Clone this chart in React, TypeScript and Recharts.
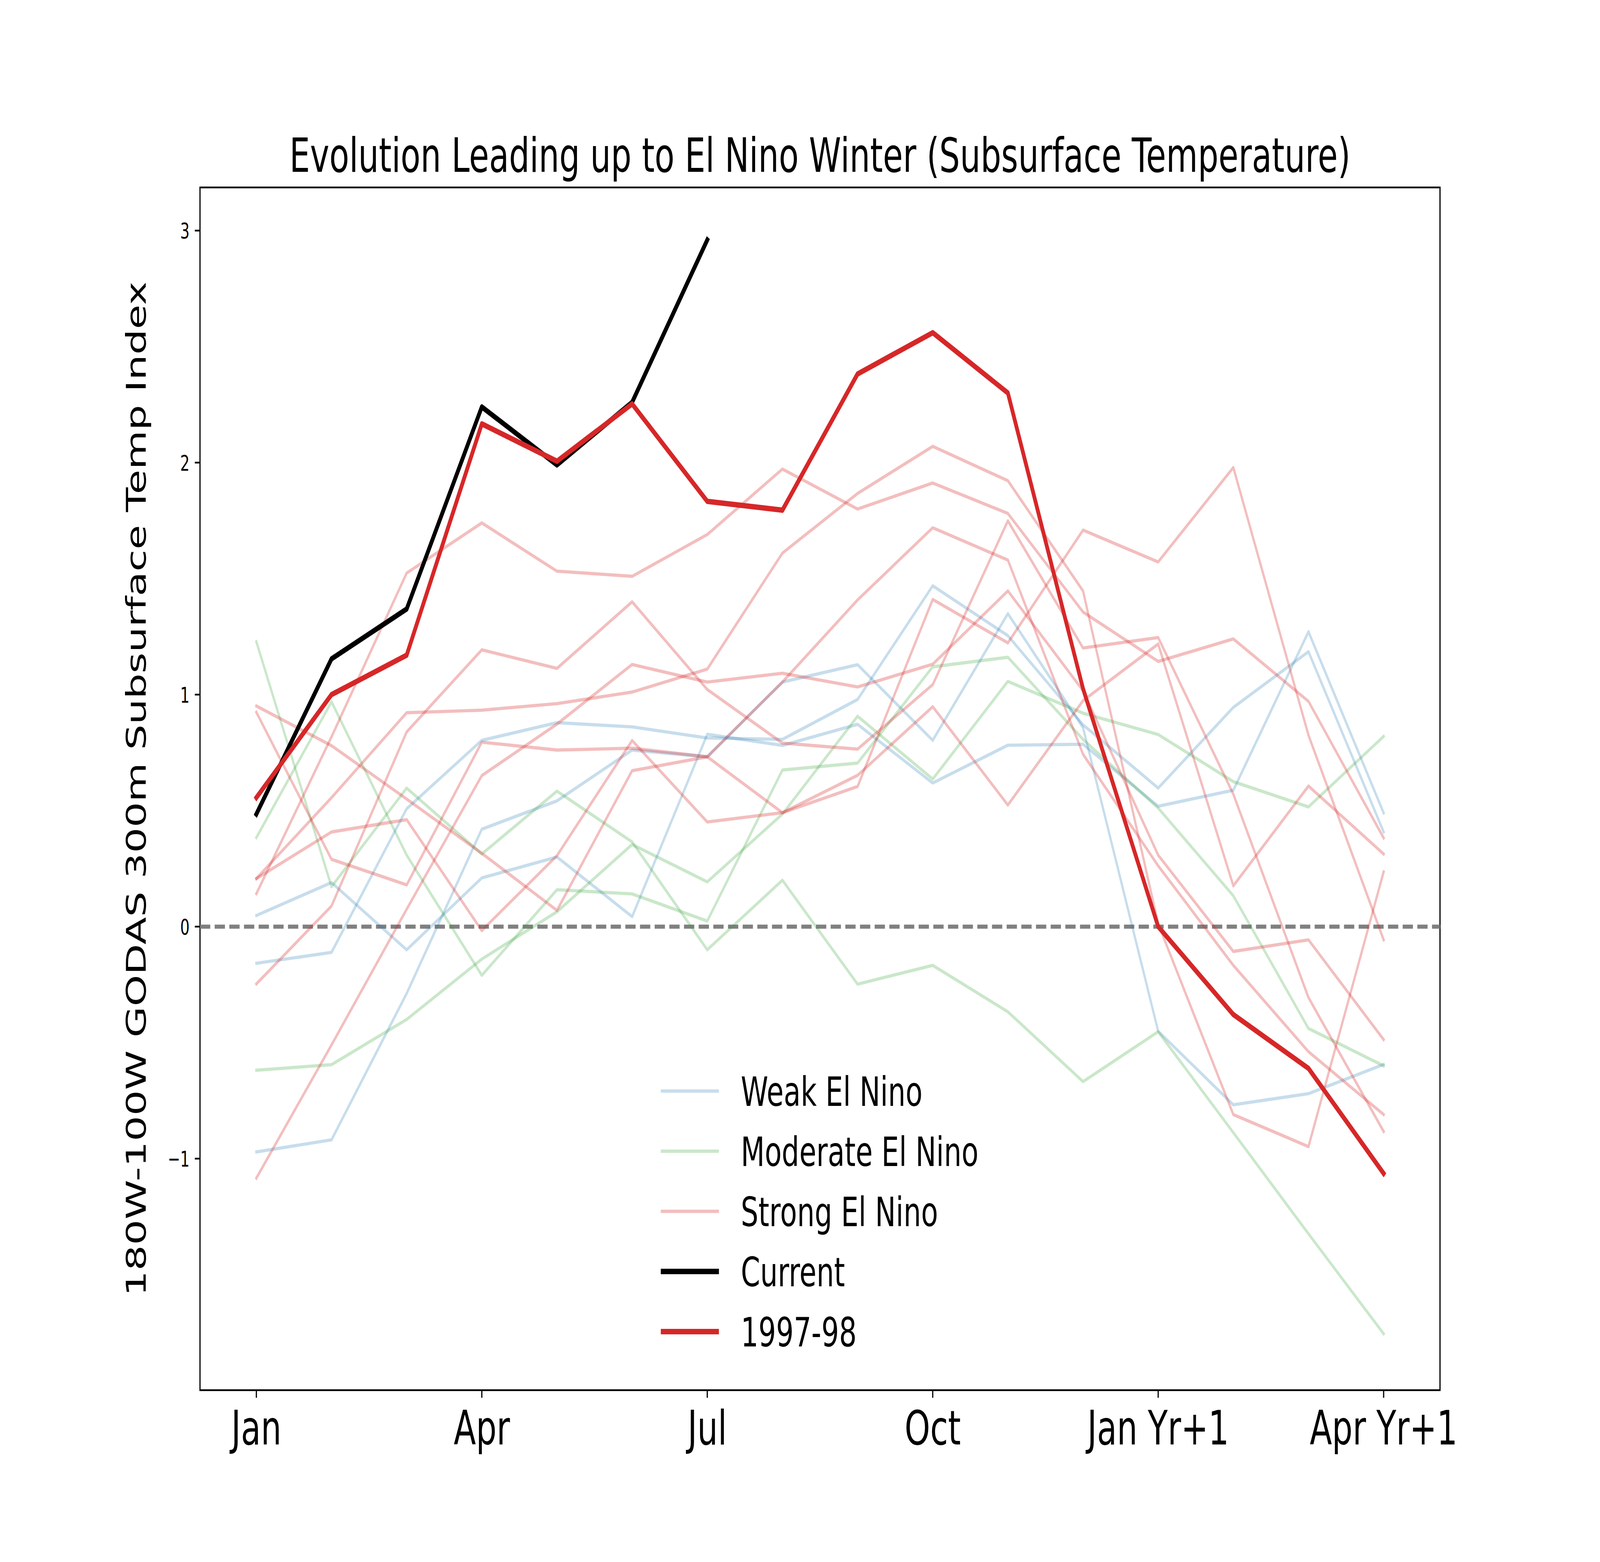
import React from 'react';
import {
  LineChart,
  Line,
  XAxis,
  YAxis,
  ReferenceLine,
  ReferenceArea,
  Legend,
  Customized,
} from 'recharts';

// ---------- data ----------
const monthIndex = [0, 1, 2, 3, 4, 5, 6, 7, 8, 9, 10, 11, 12, 13, 14, 15];
const xTickValues = [0, 3, 6, 9, 12, 15];
const xTickLabels = ['Jan', 'Apr', 'Jul', 'Oct', 'Jan Yr+1', 'Apr Yr+1'];
const yTickValues = [-1, 0, 1, 2, 3];
const yTickLabels = ['\u22121', '0', '1', '2', '3'];

const weak1 = [0.048, 0.19, -0.1, 0.21, 0.3, 0.043, 0.829, 0.781, 0.872, 0.619, 0.782, 0.786, 0.519, 0.588, 1.271, 0.49];
const weak2 = [-0.158, -0.111, 0.508, 0.803, 0.879, 0.861, 0.813, 0.807, 0.979, 1.469, 1.254, 0.87, 0.597, 0.945, 1.185, 0.408];
const weak3 = [-0.971, -0.919, -0.288, 0.42, 0.542, 0.761, 0.732, 1.054, 1.129, 0.803, 1.349, 0.858, -0.451, -0.768, -0.72, -0.594];

const moderate1 = [0.384, 0.969, 0.308, -0.21, 0.159, 0.141, 0.024, 0.675, 0.705, 1.12, 1.161, 0.807, 0.511, 0.133, -0.439, -0.6];
const moderate2 = [1.228, 0.172, 0.597, 0.313, 0.584, 0.365, -0.1, 0.2, -0.248, -0.167, -0.367, -0.668, -0.453, -0.888, -1.324, -1.755];
const moderate3 = [-0.619, -0.595, -0.4, -0.14, 0.064, 0.354, 0.193, 0.485, 0.907, 0.636, 1.057, 0.92, 0.828, 0.625, 0.516, 0.82];

const strong1 = [0.951, 0.78, 0.55, 0.316, 0.07, 0.672, 0.732, 0.491, 0.604, 1.41, 1.223, 1.709, 1.572, 1.979, 0.825, -0.057];
const strong2 = [0.924, 0.29, 0.18, 0.795, 0.761, 0.769, 0.732, 1.054, 1.408, 1.719, 1.58, 0.743, 0.262, -0.167, -0.539, -0.81];
const strong3 = [0.207, 0.408, 0.461, -0.017, 0.306, 0.802, 0.451, 0.491, 0.652, 0.948, 0.524, 0.974, 1.218, 0.176, 0.606, 0.313];
const strong4 = [0.207, 0.556, 0.922, 0.933, 0.961, 1.011, 1.11, 1.61, 1.867, 2.07, 1.922, 1.447, 0.012, -0.81, -0.948, 0.236];
const strong5 = [0.142, 0.818, 1.524, 1.74, 1.532, 1.51, 1.69, 1.972, 1.8, 1.912, 1.781, 1.356, 1.143, 1.24, 0.971, 0.382];
const strong6 = [-0.247, 0.089, 0.839, 1.193, 1.113, 1.4, 1.022, 0.791, 0.765, 1.043, 1.749, 1.201, 1.246, 0.571, -0.306, -0.883];
const strong7 = [-1.084, -0.51, 0.075, 0.651, 0.873, 1.13, 1.054, 1.092, 1.033, 1.131, 1.447, 1.017, 0.308, -0.107, -0.057, -0.487];

const current = [0.485, 1.154, 1.369, 2.24, 1.99, 2.26, 2.96];
const elNino1997 = [0.556, 1.0, 1.17, 2.167, 2.006, 2.253, 1.833, 1.795, 2.382, 2.56, 2.3, 1.026, 0.0, -0.379, -0.611, -1.064];

const weakSeries = [weak1, weak2, weak3];
const moderateSeries = [moderate1, moderate2, moderate3];
const strongSeries = [strong1, strong2, strong3, strong4, strong5, strong6, strong7];

// ---------- styling ----------
const FONT = 'DejaVu Sans';
const BLUE = '#1f77b4';
const GREEN = '#2ca02c';
const RED = '#d62728';
const Y_MIN = -1.998;
const Y_MAX = 3.186;
const PT = 400 / 72;
const FIG_W = 6000;
const FIG_H = 4000;

const data = monthIndex.map((m, i) => {
  const row: Record<string, number | null> = { m };
  weakSeries.forEach((s, k) => (row[`w${k}`] = s[i]));
  moderateSeries.forEach((s, k) => (row[`g${k}`] = s[i]));
  strongSeries.forEach((s, k) => (row[`s${k}`] = s[i]));
  row.cur = i < current.length ? current[i] : null;
  row.r97 = elNino1997[i];
  return row;
});

const XTick = (props: any) => {
  const { x, y, payload } = props;
  const idx = xTickValues.indexOf(payload.value);
  return (
    <text x={x} y={y + 120} textAnchor="middle" fontSize={122} fontFamily={FONT} fill="#000">
      {xTickLabels[idx]}
    </text>
  );
};

const YTick = (props: any) => {
  const { x, y, payload } = props;
  const idx = yTickValues.indexOf(payload.value);
  return (
    <text x={x} y={y + 20} textAnchor="end" fontSize={55.6} fontFamily={FONT} fill="#000">
      {yTickLabels[idx]}
    </text>
  );
};

const Title = () => (
  <text x={3075} y={440} textAnchor="middle" fontSize={122} fontFamily={FONT} fill="#000">
    Evolution Leading up to El Nino Winter (Subsurface Temperature)
  </text>
);

const YLabel = () => (
  <text
    x={546}
    y={2020}
    transform="rotate(-90 546 2020)"
    textAnchor="middle"
    fontSize={103}
    fontFamily={FONT}
    fill="#000"
  >
    180W-100W GODAS 300m Subsurface Temp Index
  </text>
);

const legendItems = [
  { label: 'Weak El Nino', color: BLUE, opacity: 0.25, width: 1.5 * PT },
  { label: 'Moderate El Nino', color: GREEN, opacity: 0.25, width: 1.5 * PT },
  { label: 'Strong El Nino', color: RED, opacity: 0.3, width: 1.5 * PT },
  { label: 'Current', color: '#000000', opacity: 1, width: 2.5 * PT },
  { label: '1997-98', color: RED, opacity: 1, width: 2.5 * PT },
];

const LegendBox = () => (
  <svg width={1500} height={800} style={{ display: 'block', overflow: 'visible' }}>
    {legendItems.map((it, i) => {
      const cy = 94 + i * 154;
      return (
        <g key={it.label}>
          <line
            x1={38}
            x2={256}
            y1={cy}
            y2={cy}
            stroke={it.color}
            strokeOpacity={it.opacity}
            strokeWidth={it.width}
          />
          <text x={338} y={cy + 38} fontSize={104} fontFamily={FONT} fill="#000">
            {it.label}
          </text>
        </g>
      );
    })}
  </svg>
);

export default function App() {
  const faint = 1.5 * PT;
  const thick = 2.5 * PT;
  const vw = typeof window !== 'undefined' ? window.innerWidth || FIG_W : FIG_W;
  const vh = typeof window !== 'undefined' ? window.innerHeight || FIG_H : FIG_H;
  const sx = Math.min(1, vw / FIG_W);
  const sy = Math.min(1, vh / FIG_H);
  return (
    <div
      style={{
        position: 'absolute',
        left: 0,
        top: 0,
        width: FIG_W * sx,
        height: FIG_H * sy,
        overflow: 'hidden',
        background: '#fff',
      }}
    >
      <div
        style={{
          width: FIG_W,
          height: FIG_H,
          transform: `scale(${sx}, ${sy})`,
          transformOrigin: '0 0',
        }}
      >
        <LineChart
          width={FIG_W}
          height={FIG_H}
          data={data}
          margin={{ top: 480, right: 600, bottom: 240, left: 550 }}
        >
          <XAxis
            dataKey="m"
            type="number"
            domain={[-0.75, 15.75]}
            ticks={xTickValues}
            interval={0}
            height={200}
            tick={<XTick />}
            stroke="#000"
            tickLine={{ stroke: '#000', strokeWidth: 0.8 * PT }}
            tickSize={3.5 * PT}
            tickMargin={0}
            axisLine={false}
            allowDataOverflow
          />
          <YAxis
            type="number"
            domain={[Y_MIN, Y_MAX]}
            ticks={yTickValues}
            interval={0}
            width={200}
            tick={<YTick />}
            stroke="#000"
            tickLine={{ stroke: '#000', strokeWidth: 0.8 * PT }}
            tickSize={3.5 * PT}
            tickMargin={3.5 * PT}
            axisLine={false}
            allowDataOverflow
          />
          <ReferenceLine y={0} stroke="#808080" strokeWidth={10.5} strokeDasharray="38.5 16.5" />
          {weakSeries.map((_, k) => (
            <Line
              key={`w${k}`}
              dataKey={`w${k}`}
              type="linear"
              stroke={BLUE}
              strokeOpacity={0.25}
              strokeWidth={faint}
              strokeLinejoin="round"
              strokeLinecap="square"
              dot={false}
              activeDot={false}
              isAnimationActive={false}
            />
          ))}
          {moderateSeries.map((_, k) => (
            <Line
              key={`g${k}`}
              dataKey={`g${k}`}
              type="linear"
              stroke={GREEN}
              strokeOpacity={0.25}
              strokeWidth={faint}
              strokeLinejoin="round"
              strokeLinecap="square"
              dot={false}
              activeDot={false}
              isAnimationActive={false}
            />
          ))}
          {strongSeries.map((_, k) => (
            <Line
              key={`s${k}`}
              dataKey={`s${k}`}
              type="linear"
              stroke={RED}
              strokeOpacity={0.3}
              strokeWidth={faint}
              strokeLinejoin="round"
              strokeLinecap="square"
              dot={false}
              activeDot={false}
              isAnimationActive={false}
            />
          ))}
          <Line
            dataKey="cur"
            type="linear"
            stroke="#000"
            strokeWidth={thick}
            strokeLinejoin="round"
            strokeLinecap="square"
            dot={false}
            activeDot={false}
            isAnimationActive={false}
          />
          <Line
            dataKey="r97"
            type="linear"
            stroke={RED}
            strokeWidth={thick}
            strokeLinejoin="round"
            strokeLinecap="square"
            dot={false}
            activeDot={false}
            isAnimationActive={false}
          />
          <ReferenceArea
            x1={-0.75}
            x2={15.75}
            y1={Y_MIN}
            y2={Y_MAX}
            fill="none"
            fillOpacity={0}
            stroke="#000"
            strokeWidth={0.8 * PT}
            ifOverflow="visible"
          />
          <Legend
            content={() => <LegendBox />}
            layout="horizontal"
            verticalAlign="middle"
            align="center"
            wrapperStyle={{ left: 2440, top: 2700, width: 1500, height: 800 }}
          />
          <Customized component={Title} />
          <Customized component={YLabel} />
        </LineChart>
      </div>
    </div>
  );
}
